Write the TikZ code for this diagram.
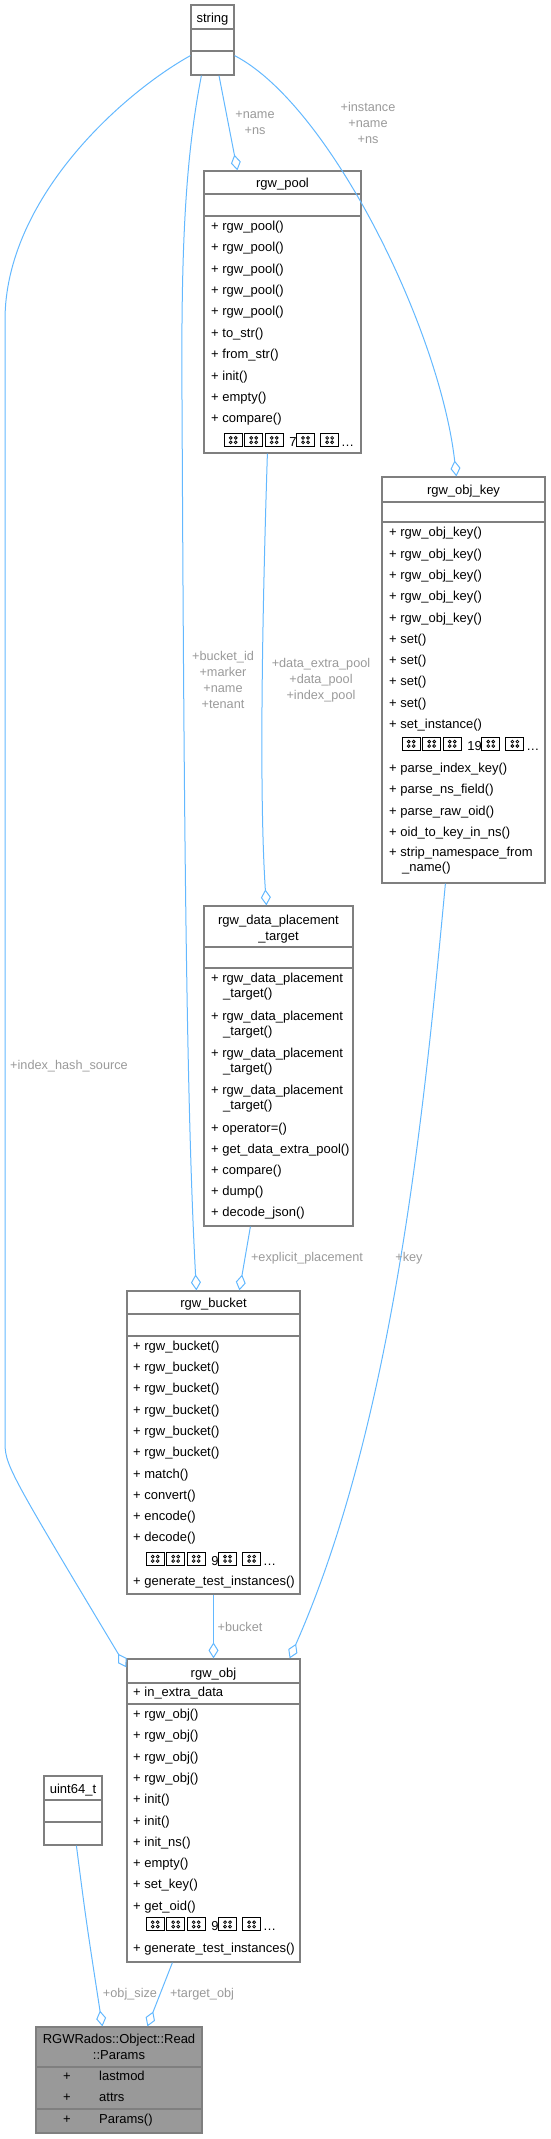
\documentclass[tikz,border=0pt]{standalone}
\usepackage{fontspec}
\usepackage{pict2e}
\setmainfont{Liberation Sans}
\usetikzlibrary{arrows.meta,fit}

\definecolor{edgeblue}{HTML}{63B8FF}
\definecolor{lblgray}{HTML}{9A9A9A}
\definecolor{boxgray}{HTML}{7F7F7F}
\definecolor{hlgray}{HTML}{999999}

% box drawn for a glyph the font lacks
\newcommand\tofu{{\setlength\unitlength{1pt}\linethickness{0.8pt}%
  \begin{picture}(18,10)(0,-2)
    \polygon(0,-2)(18,-2)(18,11)(0,11)
    \put(6.5,2.2){\circle{2.8}}\put(11.5,2.2){\circle{2.8}}
    \put(6.5,6.6){\circle{2.8}}\put(11.5,6.6){\circle{2.8}}
  \end{picture}}\kern2.5pt}

\tikzset{
  cls/.style={draw=boxgray, line width=1.2pt, inner sep=0pt, fill=white},
  sep/.style={draw=boxgray, line width=1.2pt},
  ttl/.style={anchor=base, inner sep=0pt, font=\fontsize{13}{15.3}\selectfont},
  mem/.style={anchor=base west, inner sep=0pt, font=\fontsize{13}{15.3}\selectfont},
  lbl/.style={align=center, inner sep=0pt, text=lblgray, font=\fontsize{12.7}{16}\selectfont},
  agg/.style={draw=edgeblue, line width=1pt, -{Diamond[open,length=16pt,width=10pt]}},
}

\begin{document}
\begin{tikzpicture}[x=1pt,y=-1pt]
\useasboundingbox (0,0) rectangle (551,2139);

% string
\node[cls, fit={(191,5) (234,75)}] (str) {};
\draw[sep] (191,29) -- (234,29) (191,51) -- (234,51);
\node[ttl] (strt) at (212.5,22.5) {string};

% rgw_pool
\node[cls, fit={(204,171) (361,453)}] (pool) {};
\draw[sep] (204,194) -- (361,194) (204,216) -- (361,216);
\node[ttl] (poolt) at (282.5,187) {rgw\_pool};
\foreach \m [count=\i from 0] in {rgw\_pool(),rgw\_pool(),rgw\_pool(),rgw\_pool(),rgw\_pool(),to\_str(),from\_str(),init(),empty(),compare()}
  \node[mem] (poolm\i) at (211,230.2+21.4*\i) {+ \m};
\node[mem] (poolx) at (224,446.5) {\tofu\tofu\tofu{} 7\tofu{} \tofu…};

% rgw_obj_key
\node[cls, fit={(382,477) (545,883)}] (key) {};
\draw[sep] (382,502) -- (545,502) (382,522) -- (545,522);
\node[ttl] (keyt) at (463.5,494) {rgw\_obj\_key};
\foreach \m [count=\i from 0] in {rgw\_obj\_key(),rgw\_obj\_key(),rgw\_obj\_key(),rgw\_obj\_key(),rgw\_obj\_key(),set(),set(),set(),set(),set\_instance()}
  \node[mem] (keym\i) at (389,536.8+21.3*\i) {+ \m};
\node[mem] (keyx) at (402,750.2) {\tofu\tofu\tofu{} 19\tofu{} \tofu…};
\foreach \m [count=\i from 0] in {parse\_index\_key(),parse\_ns\_field(),parse\_raw\_oid(),oid\_to\_key\_in\_ns()}
  \node[mem] (keyn\i) at (389,772.5+21.3*\i) {+ \m};
\node[mem] (keys1) at (389,856.8) {+ strip\_namespace\_from};
\node[mem] (keys2) at (402,871.8) {\_name()};

% rgw_data_placement_target
\node[cls, fit={(204,906) (353,1226)}] (dpt) {};
\draw[sep] (204,947) -- (353,947) (204,968) -- (353,968);
\node[ttl] (dptt1) at (278.5,924.5) {rgw\_data\_placement};
\node[ttl] (dptt2) at (278.5,940.2) {\_target};
\foreach \y [count=\i] in {979,1016.7,1054,1091} {
  \node[mem] (dptm\i) at (211,\y+3.5) {+ rgw\_data\_placement};
  \node[mem] (dptc\i) at (223,\y+18.8) {\_target()};
}
\foreach \m [count=\i from 0] in {operator=(),get\_data\_extra\_pool(),compare(),dump(),decode\_json()}
  \node[mem] (dptn\i) at (211,1132.8+21*\i) {+ \m};

% rgw_bucket
\node[cls, fit={(127,1291) (300,1594)}] (bucket) {};
\draw[sep] (127,1314) -- (300,1314) (127,1336) -- (300,1336);
\node[ttl] (buckett) at (213.5,1307.5) {rgw\_bucket};
\foreach \m [count=\i from 0] in {rgw\_bucket(),rgw\_bucket(),rgw\_bucket(),rgw\_bucket(),rgw\_bucket(),rgw\_bucket(),match(),convert(),encode(),decode()}
  \node[mem] (bucketm\i) at (133,1350.2+21.3*\i) {+ \m};
\node[mem] (bucketx) at (146,1565.2) {\tofu\tofu\tofu{} 9\tofu{} \tofu…};
\node[mem] (bucketg) at (133,1585.2) {+ generate\_test\_instances()};

% rgw_obj
\node[cls, fit={(127,1659) (300,1962)}] (obj) {};
\draw[sep] (127,1683) -- (300,1683) (127,1704) -- (300,1704);
\node[ttl] (objt) at (213.5,1677) {rgw\_obj};
\node[mem] (obja) at (133,1696.8) {+ in\_extra\_data};
\foreach \m [count=\i from 0] in {rgw\_obj(),rgw\_obj(),rgw\_obj(),rgw\_obj(),init(),init(),init\_ns(),empty(),set\_key(),get\_oid()}
  \node[mem] (objm\i) at (133,1718.5+21.3*\i) {+ \m};
\node[mem] (objx) at (146,1930.8) {\tofu\tofu\tofu{} 9\tofu{} \tofu…};
\node[mem] (objg) at (133,1952.5) {+ generate\_test\_instances()};

% uint64_t
\node[cls, fit={(44,1776) (102,1845)}] (u64) {};
\draw[sep] (44,1800) -- (102,1800) (44,1822) -- (102,1822);
\node[ttl] (u64t) at (73,1793.5) {uint64\_t};

% RGWRados::Object::Read::Params
\node[cls, fill=hlgray, fit={(36,2027) (202,2133)}] (params) {};
\draw[sep] (36,2067) -- (202,2067) (36,2109) -- (202,2109);
\node[ttl] (paramst1) at (119,2043.5) {RGWRados::Object::Read};
\node[ttl] (paramst2) at (119,2059.5) {::Params};
\foreach \m/\y [count=\i] in {lastmod/2080.5,attrs/2101.5,Params()/2123.5} {
  \node[ttl] (paramsp\i) at (67,\y) {+};
  \node[mem] (paramsm\i) at (99,\y) {\m};
}

% connectors
\draw[agg] ([xshift=6.5pt]str.south) -- ([xshift=34pt]pool.north west);
\draw[agg] ([xshift=11pt]str.south west) .. controls (185,160) and (181,250) .. (182,400)
  .. controls (184,800) and (186,1100) .. ([xshift=70pt]bucket.north west);
\draw[agg] ([yshift=20pt]str.south east) .. controls (330,105) and (440,330) .. ([xshift=75pt]key.north west);
\draw[agg] ([yshift=20pt]str.south west) .. controls (120,95) and (5,200) .. (5,320) -- (5,1440)
  .. controls (5,1465) .. ([yshift=-9pt]obj.north west);
\draw[agg] ([xshift=64pt]pool.south west) .. controls (264,560) and (258,780) .. ([xshift=63pt]dpt.north west);
\draw[agg] ([xshift=47pt]dpt.south west) -- ([xshift=113pt]bucket.north west);
\draw[agg] ([xshift=64pt]key.south west) .. controls (425,1100) and (395,1420) .. ([xshift=-11pt]obj.north east);
\draw[agg] (bucket.south) -- (obj.north);
\draw[agg] ([xshift=33pt]u64.south west) .. controls (86,1920) .. ([xshift=67pt]params.north west);
\draw[agg] ([xshift=46pt]obj.south west) -- ([xshift=112pt]params.north west);

% connector labels
\node[lbl] (lname) at (255,123) {+name\\+ns};
\node[lbl] (linst) at (368,122.7) {+instance\\+name\\+ns};
\node[lbl] (lbid) at (223,680) {+bucket\_id\\+marker\\+name\\+tenant};
\node[lbl] (lpool) at (321,680.7) {+data\_extra\_pool\\+data\_pool\\+index\_pool};
\node[lbl] (lhash) at (69,1066) {+index\_hash\_source};
\node[lbl] (lexpl) at (307,1258) {+explicit\_placement};
\node[lbl] (lkey) at (409,1258) {+key};
\node[lbl] (lbucket) at (240,1627) {+bucket};
\node[lbl] (lsize) at (130,1994) {+obj\_size};
\node[lbl] (ltarget) at (202,1994) {+target\_obj};
\end{tikzpicture}
\end{document}
